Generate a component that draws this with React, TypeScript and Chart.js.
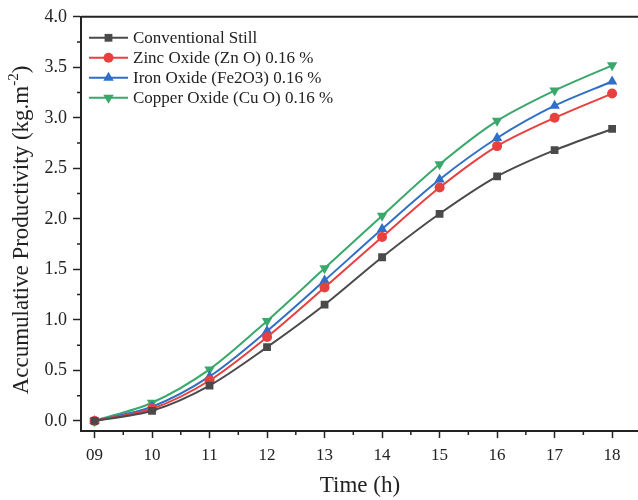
import React, { useEffect, useRef } from "react";
import { Chart, registerables } from "chart.js";

Chart.register(...registerables);

const hours = [9, 10, 11, 12, 13, 14, 15, 16, 17, 18];
const xTickLabels = ["09", "10", "11", "12", "13", "14", "15", "16", "17", "18"];
const yTickValues = [0, 0.5, 1, 1.5, 2, 2.5, 3, 3.5, 4];

const seriesNames = [
  "Conventional Still",
  "Zinc Oxide (Zn O) 0.16 %",
  "Iron Oxide (Fe2O3) 0.16 %",
  "Copper Oxide (Cu O) 0.16 %",
];
const conventional = [0, 0.1, 0.35, 0.73, 1.15, 1.62, 2.05, 2.42, 2.68, 2.89];
const zincOxide = [0, 0.12, 0.4, 0.83, 1.32, 1.82, 2.31, 2.72, 3.0, 3.24];
const ironOxide = [0, 0.14, 0.44, 0.89, 1.39, 1.9, 2.39, 2.8, 3.12, 3.36];
const copperOxide = [0, 0.18, 0.51, 0.99, 1.51, 2.03, 2.54, 2.97, 3.27, 3.52];

const colors = ["#4a4a4a", "#e8403f", "#2f6fc6", "#39a86b"];
const pointStyles = ["rect", "circle", "triangle", "triangle"];
const rotations = [0, 0, 0, 180];
const radii = [5.5, 5, 6, 6];

const FONT = "'Liberation Serif', 'Times New Roman', serif";
const INK = "#222";

function drawMarker(ctx: CanvasRenderingContext2D, style: string, x: number, y: number, r: number, rot: number) {
  ctx.save();
  ctx.translate(x, y);
  ctx.rotate((rot * Math.PI) / 180);
  ctx.beginPath();
  if (style === "rect") {
    const s = Math.SQRT1_2 * r;
    ctx.rect(-s, -s, 2 * s, 2 * s);
  } else if (style === "circle") {
    ctx.arc(0, 0, r, 0, Math.PI * 2);
  } else {
    ctx.moveTo(0, -r);
    ctx.lineTo(r * 0.866, r * 0.5);
    ctx.lineTo(-r * 0.866, r * 0.5);
    ctx.closePath();
  }
  ctx.fill();
  ctx.restore();
}

const decorPlugin = {
  id: "decor",
  afterDraw(chart: any) {
    const ctx: CanvasRenderingContext2D = chart.ctx;
    const area = chart.chartArea;
    const xs = chart.scales.x;
    const ys = chart.scales.y;
    ctx.save();
    // top border
    ctx.strokeStyle = INK;
    ctx.lineWidth = 2;
    ctx.beginPath();
    ctx.moveTo(area.left, area.top);
    ctx.lineTo(area.right, area.top);
    ctx.stroke();
    // minor ticks
    ctx.lineWidth = 1.5;
    ctx.beginPath();
    for (let i = 0; i < hours.length - 1; i++) {
      const px = xs.getPixelForValue((hours[i] + hours[i + 1]) / 2);
      ctx.moveTo(px, area.bottom);
      ctx.lineTo(px, area.bottom + 4);
    }
    for (let i = 0; i < yTickValues.length - 1; i++) {
      const py = ys.getPixelForValue((yTickValues[i] + yTickValues[i + 1]) / 2);
      ctx.moveTo(area.left, py);
      ctx.lineTo(area.left - 4, py);
    }
    ctx.stroke();

    // x title
    ctx.fillStyle = INK;
    ctx.font = `23px ${FONT}`;
    ctx.textAlign = "center";
    ctx.textBaseline = "middle";
    ctx.fillText("Time (h)", 360, 486);

    // y title with superscript
    ctx.save();
    ctx.translate(22, 230);
    ctx.rotate(-Math.PI / 2);
    const main = "Accumulative Productivity (kg.m";
    const sup = "-2";
    const end = ")";
    ctx.font = `23px ${FONT}`;
    const wMain = ctx.measureText(main).width;
    const wEnd = ctx.measureText(end).width;
    ctx.font = `15px ${FONT}`;
    const wSup = ctx.measureText(sup).width;
    const total = wMain + wSup + wEnd;
    let cx = -total / 2;
    ctx.textAlign = "left";
    ctx.textBaseline = "middle";
    ctx.font = `23px ${FONT}`;
    ctx.fillText(main, cx, 0);
    cx += wMain;
    ctx.font = `15px ${FONT}`;
    ctx.fillText(sup, cx, -8);
    cx += wSup;
    ctx.font = `23px ${FONT}`;
    ctx.fillText(end, cx, 0);
    ctx.restore();

    // legend
    const lx0 = area.left + 8;
    const lx1 = area.left + 47;
    const ty = area.top + 21;
    chart.data.datasets.forEach((ds: any, i: number) => {
      const y = ty + i * 20;
      ctx.strokeStyle = colors[i];
      ctx.lineWidth = 2;
      ctx.beginPath();
      ctx.moveTo(lx0, y);
      ctx.lineTo(lx1, y);
      ctx.stroke();
      ctx.fillStyle = colors[i];
      drawMarker(ctx, pointStyles[i], (lx0 + lx1) / 2, y, radii[i], rotations[i]);
      ctx.fillStyle = INK;
      ctx.font = `17px ${FONT}`;
      ctx.textAlign = "left";
      ctx.textBaseline = "middle";
      ctx.fillText(ds.label, lx1 + 5, y + 1);
    });
    ctx.restore();
  },
};

export default function App() {
  const ref = useRef<HTMLCanvasElement | null>(null);
  useEffect(() => {
    if (!ref.current) return;
    const allSeries = [conventional, zincOxide, ironOxide, copperOxide];
    const chart = new Chart(ref.current, {
      type: "line",
      data: {
        datasets: allSeries.map((vals, i) => ({
          label: seriesNames[i],
          data: hours.map((h, j) => ({ x: h, y: vals[j] })),
          borderColor: colors[i],
          backgroundColor: colors[i],
          borderWidth: 2,
          pointStyle: pointStyles[i] as any,
          pointRotation: rotations[i],
          pointRadius: radii[i],
          pointBorderWidth: 0,
          tension: 0.3,
          fill: false,
        })),
      },
      options: {
        responsive: false,
        animation: false,
        layout: { padding: { top: 15, right: 0, left: 0, bottom: 0 } },
        plugins: { legend: { display: false }, tooltip: { enabled: false } },
        scales: {
          x: {
            type: "linear",
            min: 8.765,
            max: 18.45,
            afterBuildTicks: (scale: any) => {
              scale.ticks = hours.map((v) => ({ value: v }));
            },
            afterFit: (scale: any) => {
              scale.height = 69;
            },
            ticks: {
              autoSkip: false,
              maxRotation: 0,
              padding: 7,
              color: INK,
              font: { family: FONT, size: 17 },
              callback: (v: any) => {
                const idx = hours.indexOf(Number(v));
                return idx >= 0 ? xTickLabels[idx] : "";
              },
            },
            grid: { drawOnChartArea: false, tickLength: 7, tickWidth: 1.5, tickColor: INK },
            border: { color: INK, width: 2 },
          },
          y: {
            min: -0.1,
            max: 4.0,
            afterBuildTicks: (scale: any) => {
              scale.ticks = yTickValues.map((v) => ({ value: v }));
            },
            afterFit: (scale: any) => {
              scale.width = 81;
            },
            ticks: {
              padding: 6,
              color: INK,
              font: { family: FONT, size: 18 },
              callback: (v: any) => Number(v).toFixed(1),
            },
            grid: { drawOnChartArea: false, tickLength: 8, tickWidth: 1.5, tickColor: INK },
            border: { color: INK, width: 2 },
          },
        },
      },
      plugins: [decorPlugin],
    });
    return () => chart.destroy();
  }, []);
  return (
    <div style={{ position: "fixed", left: 0, top: 0, width: 638, height: 500, overflow: "hidden", background: "#fff" }}>
      <canvas ref={ref} width={644} height={500} style={{ display: "block" }} />
    </div>
  );
}
